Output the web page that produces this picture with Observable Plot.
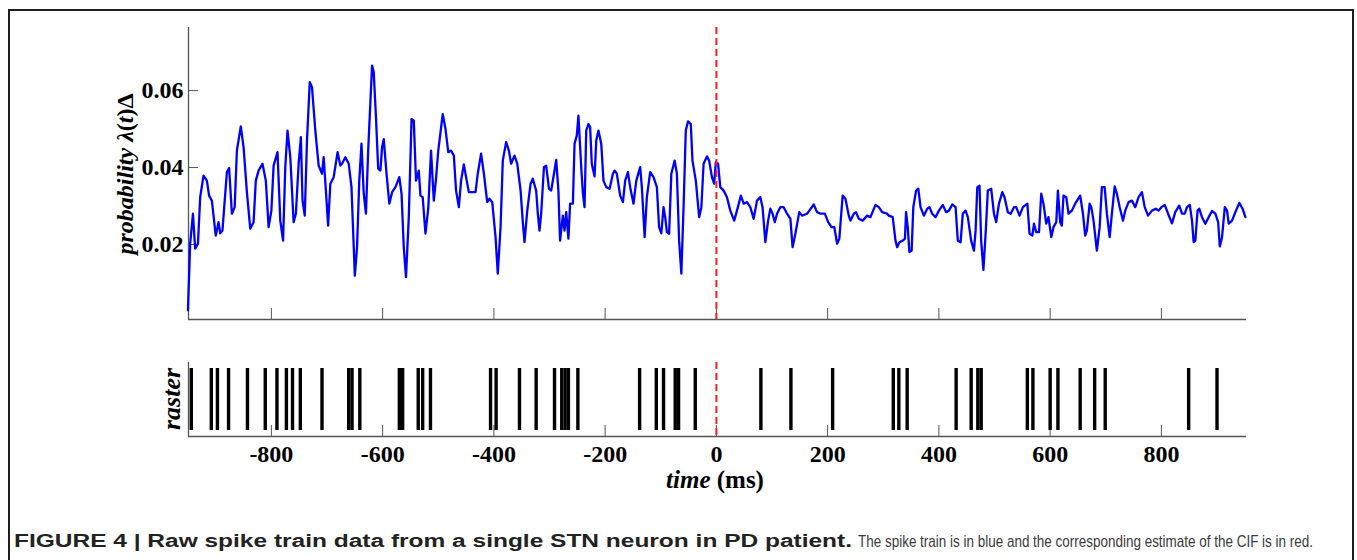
<!DOCTYPE html>
<html>
<head>
<meta charset="utf-8">
<script src="https://cdn.jsdelivr.net/npm/d3@7"></script>
<script src="https://cdn.jsdelivr.net/npm/@observablehq/plot@0.6"></script>
<style>
  html, body { margin: 0; padding: 0; background: #fff; }
  #page { position: relative; width: 1357px; height: 560px; overflow: hidden; background: #fff; }
  #frame { position: absolute; left: 8px; top: 9px; width: 1346px; height: 600px; border: 2px solid #1e1e1e; box-sizing: border-box; }
  .plotwrap { position: absolute; left: 0; }
  .lab { position: absolute; white-space: nowrap; font-family: "Liberation Serif", "Times New Roman", serif; font-weight: bold; color: #000; }
  .rot { transform: translate(-50%, -50%) rotate(-90deg); }
  #caption { position: absolute; left: 14px; top: 531px; font-family: "Liberation Sans", Arial, sans-serif; font-size: 17px; line-height: 20px; color: #3a3a3a; white-space: nowrap; }
  #caption span { display: inline-block; transform-origin: 0 50%; vertical-align: baseline; }
  #capBold { font-weight: bold; color: #222; font-size: 18px; }
</style>
</head>
<body>
<div id="page">
  <div id="frame"></div>
  <div id="top" class="plotwrap" style="top:0"></div>
  <div id="bottom" class="plotwrap" style="top:340px"></div>
  <div class="lab rot" style="left:125px; top:174px; font-size:24px;"><i>probability</i> <i>λ</i>(<i>t</i>)Δ</div>
  <div class="lab rot" style="left:172px; top:399px; font-size:26px;"><i>raster</i></div>
  <div class="lab" style="left:715px; top:480px; font-size:25px; transform: translate(-50%, -50%);"><i>time</i> (ms)</div>
  <div id="caption"><span id="capBold">FIGURE 4 | Raw spike train data from a single STN neuron in PD patient.</span><span id="capRest">The spike train is in blue and the corresponding estimate of the CIF is in red.</span></div>
</div>
<script>
// time (ms) of each sample of the probability curve
const timeMs = [
  -950,-946,-941,-937,-932,-928,-922,-916,-912,-907,
  -900,-895,-892,-888,-880,-876,-871,-866,-862,-855,
  -850,-844,-838,-832,-828,-823,-816,-810,-805,-800,
  -796,-789,-784,-779,-775,-771,-766,-760,-756,-751,
  -747,-744,-740,-736,-731,-727,-721,-715,-709,-706,
  -702,-698,-694,-688,-681,-676,-673,-667,-661,-656,
  -650,-646,-642,-638,-634,-630,-626,-619,-616,-612,
  -608,-604,-601,-598,-593,-588,-583,-577,-570,-566,
  -562,-558,-553,-548,-544,-540,-535,-532,-528,-523,
  -518,-513,-508,-504,-500,-492,-487,-482,-477,-472,
  -468,-463,-459,-454,-450,-445,-439,-433,-429,-423,
  -418,-412,-408,-403,-397,-393,-388,-384,-378,-373,
  -369,-363,-358,-352,-348,-345,-340,-334,-330,-324,
  -321,-318,-315,-310,-306,-301,-297,-292,-288,-284,
  -281,-276,-273,-270,-266,-263,-258,-255,-251,-248,
  -243,-240,-237,-234,-230,-227,-224,-219,-216,-212,
  -207,-203,-198,-192,-186,-183,-179,-173,-168,-164,
  -159,-155,-149,-144,-137,-134,-129,-125,-119,-113,
  -107,-103,-99,-95,-92,-89,-85,-81,-75,-71,
  -67,-63,-59,-55,-51,-46,-43,-37,-31,-27,
  -23,-17,-13,-8,-4,-1,3,7,13,19,
  25,32,37,44,49,55,61,67,73,79,
  83,88,93,97,101,105,109,115,121,127,
  133,137,142,149,154,163,167,175,181,187,
  195,201,207,212,217,221,227,232,238,241,
  247,251,256,263,271,277,286,292,298,307,
  310,317,322,325,329,335,339,341,344,347,
  351,354,359,363,367,373,379,383,388,394,
  400,407,413,418,424,430,434,439,443,448,
  452,458,463,466,469,473,476,480,484,488,
  494,499,503,508,514,518,524,529,535,539,
  545,551,559,563,568,571,575,580,584,588,
  593,597,602,606,611,614,618,621,624,629,
  633,639,645,654,659,663,666,671,674,678,
  684,689,693,698,702,707,711,716,720,725,
  731,735,741,747,753,759,765,770,776,783,
  790,795,800,806,812,819,825,832,837,842,
  846,851,855,858,861,865,868,873,879,885,
  891,897,902,905,909,914,918,921,927,933,
  940,946,951
];
// probability λ(t)Δ at each of those times
const prob = [
  0.0029,0.0202,0.0280,0.0189,0.0202,0.0323,0.0379,0.0366,0.0327,0.0314,
  0.0223,0.0258,0.0229,0.0236,0.0388,0.0399,0.0280,0.0297,0.0444,0.0507,
  0.0453,0.0336,0.0241,0.0258,0.0366,0.0392,0.0410,0.0366,0.0245,0.0288,
  0.0405,0.0440,0.0262,0.0210,0.0401,0.0496,0.0427,0.0258,0.0280,0.0410,
  0.0479,0.0314,0.0275,0.0470,0.0622,0.0609,0.0496,0.0405,0.0384,0.0427,
  0.0340,0.0249,0.0358,0.0375,0.0440,0.0405,0.0410,0.0427,0.0410,0.0349,
  0.0119,0.0193,0.0366,0.0462,0.0332,0.0280,0.0444,0.0665,0.0648,0.0531,
  0.0397,0.0392,0.0453,0.0474,0.0384,0.0306,0.0336,0.0349,0.0375,0.0332,
  0.0193,0.0115,0.0271,0.0526,0.0522,0.0366,0.0392,0.0327,0.0323,0.0228,
  0.0293,0.0444,0.0314,0.0371,0.0444,0.0539,0.0500,0.0440,0.0444,0.0431,
  0.0340,0.0297,0.0366,0.0408,0.0375,0.0336,0.0336,0.0336,0.0384,0.0436,
  0.0384,0.0310,0.0319,0.0310,0.0219,0.0124,0.0245,0.0418,0.0466,0.0444,
  0.0410,0.0431,0.0410,0.0340,0.0258,0.0206,0.0288,0.0358,0.0371,0.0340,
  0.0280,0.0236,0.0280,0.0401,0.0405,0.0345,0.0340,0.0384,0.0420,0.0340,
  0.0210,0.0275,0.0236,0.0284,0.0215,0.0306,0.0306,0.0462,0.0483,0.0535,
  0.0401,0.0332,0.0297,0.0496,0.0513,0.0505,0.0410,0.0377,0.0470,0.0496,
  0.0462,0.0366,0.0349,0.0345,0.0384,0.0392,0.0384,0.0327,0.0310,0.0366,
  0.0388,0.0349,0.0306,0.0366,0.0401,0.0349,0.0219,0.0323,0.0388,0.0375,
  0.0349,0.0245,0.0229,0.0297,0.0271,0.0232,0.0228,0.0384,0.0418,0.0384,
  0.0210,0.0124,0.0297,0.0496,0.0520,0.0513,0.0418,0.0366,0.0271,0.0297,
  0.0410,0.0429,0.0418,0.0375,0.0358,0.0414,0.0410,0.0349,0.0340,0.0323,
  0.0288,0.0262,0.0288,0.0327,0.0306,0.0310,0.0297,0.0267,0.0314,0.0323,
  0.0297,0.0206,0.0262,0.0293,0.0280,0.0258,0.0280,0.0297,0.0297,0.0280,
  0.0267,0.0193,0.0228,0.0284,0.0275,0.0280,0.0288,0.0304,0.0284,0.0280,
  0.0280,0.0258,0.0245,0.0245,0.0202,0.0215,0.0327,0.0319,0.0275,0.0262,
  0.0280,0.0284,0.0267,0.0262,0.0275,0.0271,0.0303,0.0297,0.0284,0.0280,
  0.0275,0.0271,0.0210,0.0193,0.0206,0.0210,0.0215,0.0284,0.0245,0.0180,
  0.0184,0.0297,0.0340,0.0345,0.0297,0.0275,0.0293,0.0297,0.0280,0.0271,
  0.0288,0.0303,0.0284,0.0288,0.0304,0.0297,0.0210,0.0206,0.0280,0.0288,
  0.0271,0.0210,0.0184,0.0236,0.0349,0.0353,0.0210,0.0134,0.0228,0.0340,
  0.0345,0.0280,0.0258,0.0306,0.0336,0.0323,0.0284,0.0280,0.0297,0.0297,
  0.0275,0.0297,0.0306,0.0228,0.0223,0.0254,0.0232,0.0232,0.0332,0.0306,
  0.0254,0.0271,0.0219,0.0245,0.0258,0.0340,0.0258,0.0249,0.0327,0.0323,
  0.0280,0.0288,0.0306,0.0327,0.0280,0.0223,0.0236,0.0306,0.0297,0.0262,
  0.0184,0.0245,0.0349,0.0349,0.0280,0.0219,0.0280,0.0351,0.0332,0.0297,
  0.0262,0.0288,0.0310,0.0314,0.0297,0.0323,0.0336,0.0297,0.0275,0.0288,
  0.0293,0.0288,0.0297,0.0303,0.0280,0.0255,0.0284,0.0301,0.0280,0.0280,
  0.0297,0.0303,0.0262,0.0206,0.0210,0.0288,0.0293,0.0271,0.0254,0.0271,
  0.0287,0.0280,0.0258,0.0195,0.0219,0.0297,0.0288,0.0254,0.0262,0.0284,
  0.0308,0.0293,0.0271
];
// spike times (ms) in the raster
const spikeTimes = [
  -944,-908,-897,-877,-843,-811,-790,-773,-762,-748,
  -709,-661,-655,-641,-570,-564,-536,-528,-514,-406,
  -396,-354,-324,-291,-278,-272,-266,-249,-138,-108,
  -95,-74,-68,-38,80,134,209,318,328,343,
  431,458,470,476,559,569,600,614,654,680,
  699,849,900
];
const xTicks = [-800, -600, -400, -200, 0, 200, 400, 600, 800];
const yTicks = [0.02, 0.04, 0.06];
const xDomain = [-949, 953];
const yDomain = [0.0005, 0.0764];

const series = timeMs.map((t, i) => ({t, p: prob[i]}));
const axisColor = "#555";
const fontStyle = {
  fontFamily: "'Liberation Serif', 'Times New Roman', serif",
  fontSize: "24px",
  fontWeight: "bold",
  background: "none",
  overflow: "visible",
  color: "#000"
};

const topPlot = Plot.plot({
  width: 1357, height: 330,
  marginLeft: 188, marginRight: 111, marginTop: 27, marginBottom: 11,
  x: {domain: xDomain},
  y: {domain: yDomain},
  style: fontStyle,
  marks: [
    Plot.axisY({ticks: yTicks, tickSize: 0, tickPadding: 5, tickFormat: d => d.toFixed(2), label: null}),
    Plot.axisY({ticks: yTicks, tickSize: -10, tickFormat: () => "", label: null, stroke: axisColor}),
    Plot.axisX({ticks: xTicks, tickSize: -11, tickFormat: () => "", label: null, stroke: axisColor}),
    Plot.ruleX([xDomain[0]], {stroke: axisColor, strokeWidth: 1.3}),
    Plot.ruleY([yDomain[0]], {stroke: axisColor, strokeWidth: 1.3}),
    Plot.lineY(series, {x: "t", y: "p", stroke: "#0000ff", strokeWidth: 2.3}),
    Plot.ruleX([0], {stroke: "#ff1a1a", strokeWidth: 2, strokeDasharray: "7,4"})
  ]
});
document.getElementById("top").appendChild(topPlot);

const bottomPlot = Plot.plot({
  width: 1357, height: 140,
  marginLeft: 188, marginRight: 111, marginTop: 22, marginBottom: 44,
  x: {domain: xDomain},
  y: {domain: [0, 1], axis: null},
  style: fontStyle,
  marks: [
    Plot.axisX({ticks: xTicks, tickSize: 0, tickPadding: 8, tickFormat: d => String(d), label: null}),
    Plot.axisX({ticks: xTicks, tickSize: -11, tickFormat: () => "", label: null, stroke: axisColor}),
    Plot.ruleX(spikeTimes, {stroke: "#000", strokeWidth: 3.4, insetTop: 6, insetBottom: 6}),
    Plot.ruleX([xDomain[0]], {stroke: axisColor, strokeWidth: 1.3}),
    Plot.ruleY([0], {stroke: axisColor, strokeWidth: 1.3}),
    Plot.ruleX([0], {stroke: "#ff1a1a", strokeWidth: 2, strokeDasharray: "7,4"})
  ]
});
document.getElementById("bottom").appendChild(bottomPlot);

// caption: bold lead-in spans to x≈852, plain text from x≈858 to x≈1313 in the reference
function fitSpan(el, targetWidth) {
  const w = el.getBoundingClientRect().width;
  el.style.transform = `scaleX(${targetWidth / w})`;
  return w;
}
const capBold = document.getElementById("capBold");
const capRest = document.getElementById("capRest");
const bw = capBold.getBoundingClientRect().width;
capRest.style.marginLeft = (844 - bw) + "px";
fitSpan(capBold, 838);
fitSpan(capRest, 455);
</script>
</body>
</html>
